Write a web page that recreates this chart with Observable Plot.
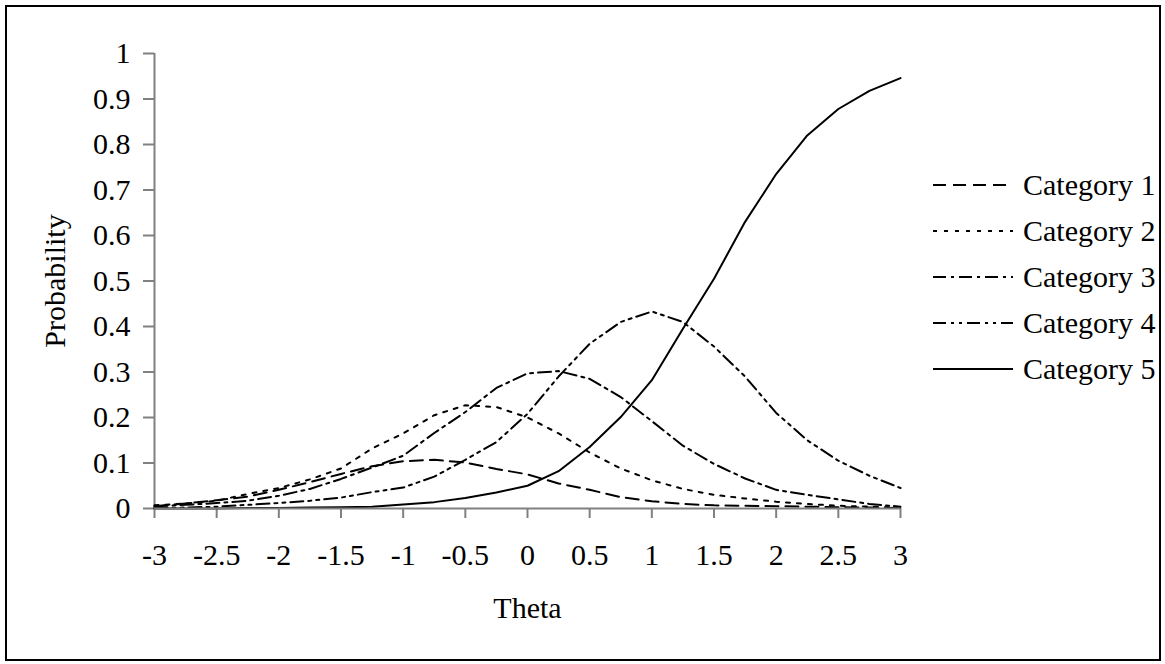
<!DOCTYPE html>
<html>
<head>
<meta charset="utf-8">
<script src="https://cdn.jsdelivr.net/npm/d3@7"></script>
<script src="https://cdn.jsdelivr.net/npm/@observablehq/plot@0.6"></script>
<style>
  body { margin: 0; background: #fff; }
  #wrap { position: relative; width: 1165px; height: 664px; overflow: hidden; background: #fff; }
  #chart { position: absolute; left: 0; top: 0; }
  #frame { position: absolute; left: 5px; top: 5px; width: 1156px; height: 656px; border: 2.5px solid #000; box-sizing: border-box; pointer-events: none; }
  #legend { position: absolute; left: 920px; top: 150px; }
</style>
</head>
<body>
<div id="wrap">
  <div id="chart"></div>
  <div id="legend"></div>
  <div id="frame"></div>
</div>
<script>
// ---- data ----
const theta = [-3, -2.75, -2.5, -2.25, -2, -1.75, -1.5, -1.25, -1, -0.75, -0.5, -0.25, 0,
               0.25, 0.5, 0.75, 1, 1.25, 1.5, 1.75, 2, 2.25, 2.5, 2.75, 3];
const category1 = [0.005, 0.011, 0.018, 0.026, 0.041, 0.058, 0.076, 0.093, 0.104, 0.107, 0.101, 0.087, 0.075,
                   0.055, 0.041, 0.025, 0.016, 0.010, 0.007, 0.006, 0.005, 0.004, 0.003, 0.002, 0.001];
const category2 = [0.007, 0.011, 0.017, 0.032, 0.045, 0.064, 0.088, 0.132, 0.165, 0.205, 0.227, 0.223, 0.200,
                   0.165, 0.123, 0.088, 0.062, 0.043, 0.030, 0.022, 0.015, 0.010, 0.006, 0.004, 0.002];
const category3 = [0.005, 0.008, 0.012, 0.017, 0.028, 0.043, 0.065, 0.090, 0.116, 0.166, 0.212, 0.265, 0.297,
                   0.302, 0.285, 0.245, 0.192, 0.138, 0.098, 0.066, 0.041, 0.030, 0.020, 0.010, 0.004];
const category4 = [0.001, 0.002, 0.004, 0.008, 0.012, 0.017, 0.024, 0.036, 0.046, 0.070, 0.107, 0.146, 0.208,
                   0.290, 0.362, 0.410, 0.433, 0.410, 0.356, 0.290, 0.210, 0.150, 0.105, 0.072, 0.045];
const category5 = [0.000, 0.000, 0.000, 0.001, 0.001, 0.002, 0.003, 0.004, 0.009, 0.014, 0.023, 0.035, 0.050,
                   0.082, 0.135, 0.201, 0.282, 0.395, 0.505, 0.630, 0.735, 0.820, 0.878, 0.918, 0.946];
const categories = ["Category 1", "Category 2", "Category 3", "Category 4", "Category 5"];
const seriesValues = [category1, category2, category3, category4, category5];
const dashPatterns = ["13,7", "4,7", "13,5,3,5", "13,5,3,5,3,5", null];
const xTicks = [-3, -2.5, -2, -1.5, -1, -0.5, 0, 0.5, 1, 1.5, 2, 2.5, 3];
const yTicks = [0, 0.1, 0.2, 0.3, 0.4, 0.5, 0.6, 0.7, 0.8, 0.9, 1];
const xLabel = "Theta";
const yLabel = "Probability";

// ---- build table ----
const rows = [];
categories.forEach((c, i) => theta.forEach((t, j) => rows.push({theta: t, p: seriesValues[i][j], cat: c})));

const font = "'Liberation Serif', 'Times New Roman', serif";
const axisGray = "#808080";

const marks = [
  Plot.ruleX([-3], {stroke: axisGray, strokeWidth: 2}),
  Plot.axisY({ticks: yTicks, tickFormat: d => String(d), tickSize: 11, tickPadding: 13,
              stroke: axisGray, strokeWidth: 2, fill: "#000", fontSize: 30, label: null}),
  Plot.axisX({ticks: xTicks, tickFormat: d => String(d), tickSize: 10, tickPadding: 25,
              stroke: axisGray, strokeWidth: 2, fill: "#000", fontSize: 30, label: null}),
  Plot.text([yLabel], {text: d => d, frameAnchor: "left", dx: -99, rotate: -90,
              fontSize: 30, textAnchor: "middle", lineAnchor: "middle", fill: "#000"}),
  Plot.text([xLabel], {text: d => d, frameAnchor: "bottom", dy: 100,
              fontSize: 30, textAnchor: "middle", lineAnchor: "middle", fill: "#000"})
];
categories.forEach((c, i) => {
  const opts = {x: "theta", y: "p", stroke: "#000", strokeWidth: 2, curve: "linear"};
  if (dashPatterns[i]) opts.strokeDasharray = dashPatterns[i];
  marks.push(Plot.line(rows.filter(r => r.cat === c), opts));
});
marks.push(Plot.ruleY([0], {stroke: axisGray, strokeWidth: 2}));

const chart = Plot.plot({
  width: 1165,
  height: 664,
  marginLeft: 154,
  marginRight: 265,
  marginTop: 53,
  marginBottom: 156,
  style: {fontFamily: font, fontSize: "30px", background: "#fff", color: "#000"},
  x: {type: "linear", domain: [-3, 3]},
  y: {type: "linear", domain: [0, 1]},
  marks
});
document.getElementById("chart").appendChild(chart);

// ---- legend ----
const lg = d3.select("#legend").append("svg")
  .attr("width", 245).attr("height", 240)
  .style("font-family", font).style("font-size", "30px");
categories.forEach((c, i) => {
  const cy = 35 + i * 46;
  const ln = lg.append("line").attr("x1", 13).attr("x2", 93).attr("y1", cy).attr("y2", cy)
    .attr("stroke", "#000").attr("stroke-width", 2);
  if (dashPatterns[i]) ln.attr("stroke-dasharray", dashPatterns[i]);
  lg.append("text").attr("x", 103).attr("y", cy).attr("dy", "0.33em").attr("fill", "#000").text(c);
});
</script>
</body>
</html>
